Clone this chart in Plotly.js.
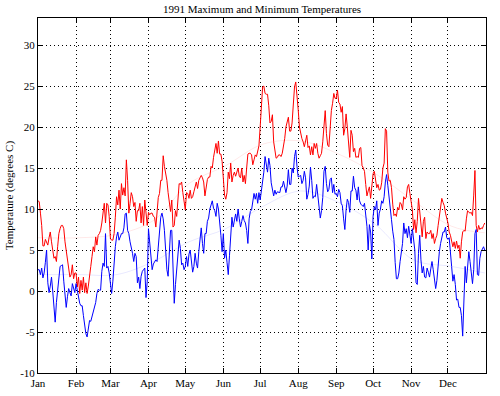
<!DOCTYPE html>
<html>
<head>
<meta charset="utf-8">
<script src="https://cdn.plot.ly/plotly-3.0.1.min.js"></script>
<style>html,body{margin:0;padding:0;background:#fff;}#chart{width:500px;height:396px;}</style>
</head>
<body>
<div id="chart"></div>
<script>
// Daily maximum temperatures (deg C), by month
const maxJan = [11.0,10.9,9.5,8.0,5.5,5.5,6.3,6.0,5.6,6.5,7.2,6.0,5.0,4.0,4.2,3.6,5.4,7.0,7.6,8.0,8.0,7.6,6.0,5.0,3.6,3.0,1.7,2.0,3.2,1.5,2.2];
const maxFeb = [2.2,0.5,1.7,-0.3,1.3,0.1,1.7,-0.2,1.0,-0.3,0.6,2.2,3.0,4.2,5.4,4.8,6.6,5.6,6.8,7.0,7.4,8.3,9.5,10.7,8.3,10.7,10.5,9.1];
const maxMar = [6.4,6.2,6.2,7.0,9.0,11.5,10.5,12.3,10.0,13.1,11.7,12.6,11.6,16.0,13.5,9.5,10.7,12.0,11.5,10.3,10.8,8.5,9.8,9.8,10.7,8.3,10.3,8.0,11.1,9.0,8.0];
const maxApr = [9.6,9.3,9.5,9.5,9.1,9.0,7.8,9.6,11.4,11.9,13.5,13.5,16.5,15.2,14.5,13.5,12.0,10.5,9.7,11.1,7.8,8.0,9.8,9.1,11.0,13.1,13.0,13.3,12.0,10.5];
const maxMay = [9.9,12.0,11.9,11.3,12.3,11.3,11.5,12.1,12.7,13.3,12.5,13.5,13.8,14.1,13.8,13.3,11.6,12.7,13.6,13.9,13.9,15.2,15.0,16.3,17.2,18.0,16.8,18.3,16.7,16.7,15.8];
const maxJun = [14.0,11.7,11.2,12.0,14.5,13.7,15.6,13.3,14.1,14.5,14.0,14.4,15.0,14.0,13.8,15.0,13.3,14.1,13.1,15.0,16.7,16.8,16.8,16.6,15.4,16.0,16.6,16.4,17.0,17.7];
const maxJul = [20.0,23.0,24.9,25.0,24.1,24.0,24.0,22.6,20.5,20.7,21.5,18.2,16.8,16.2,16.3,16.6,16.6,16.4,16.8,17.6,18.6,20.0,20.5,21.2,19.5,19.5,20.5,23.0,24.9,25.5,24.0];
const maxAug = [22.1,20.0,19.2,18.6,18.2,17.6,18.3,19.0,17.5,17.7,16.6,17.6,16.6,18.0,17.4,18.0,16.8,16.2,16.5,16.8,18.2,20.0,22.0,19.2,17.8,17.6,20.2,22.0,22.9,24.1,23.5];
const maxSep = [23.5,24.5,23.0,22.8,21.8,22.5,19.0,19.8,21.6,20.0,18.2,16.3,19.6,19.0,17.0,17.4,16.3,16.4,16.3,17.4,17.5,15.3,15.0,14.6,13.0,11.6,12.2,12.7,11.3,13.2];
const maxOct = [14.3,14.6,13.5,12.6,13.0,12.3,12.4,13.2,15.0,15.6,19.8,19.5,14.5,13.4,13.5,12.6,10.6,9.2,9.4,9.1,10.2,9.9,10.8,10.6,9.9,11.5,11.2,11.4,12.7,13.0,11.9];
const maxNov = [11.1,9.9,7.5,8.7,7.1,8.5,11.3,9.7,7.3,6.6,8.5,9.0,6.4,7.2,7.0,7.0,7.4,6.4,7.0,5.8,6.4,6.8,8.0,9.0,10.3,11.3,10.8,10.4,9.5,9.0];
const maxDec = [8.3,7.2,6.8,6.1,5.4,6.0,5.2,6.1,5.2,5.6,4.0,6.0,7.2,7.4,7.3,8.8,9.8,9.6,9.5,9.6,9.2,11.7,14.7,8.0,7.2,8.0,7.5,7.7,7.6,8.0,8.3];

// Daily minimum temperatures (deg C), by month
const minJan = [2.6,2.6,2.0,2.8,1.6,2.2,3.5,5.0,1.0,-0.2,0.6,1.7,0.0,-2.5,-3.8,-1.4,0.2,1.6,3.0,3.1,3.2,1.2,-0.5,-2.0,-0.7,0.3,-0.2,-0.6,0.9,0.4,-0.2];
const minFeb = [0.9,0.1,-0.9,-1.5,-1.8,-1.8,-3.0,-4.5,-5.2,-5.6,-4.6,-3.6,-3.7,-3.2,-2.6,-2.0,-1.4,-0.3,0.2,0.1,0.1,2.4,3.4,3.0,7.0,2.8,3.0,2.2];
const minMar = [0.8,-0.3,1.2,3.8,5.4,6.6,7.2,6.2,6.6,7.0,7.0,7.7,9.4,9.5,7.4,7.0,6.0,5.4,4.6,3.6,4.6,4.2,1.0,1.7,0.3,1.8,2.4,2.6,2.8,-0.8,1.2];
const minApr = [7.6,6.0,4.4,2.6,3.3,3.6,3.8,3.6,5.6,7.8,9.0,9.5,8.8,7.4,4.5,2.6,1.8,4.5,7.4,7.4,4.0,-1.5,0.8,3.0,4.0,6.2,5.2,3.2,3.4,2.6];
const minMay = [3.0,4.2,3.0,4.5,5.0,3.2,2.3,3.0,4.6,3.4,2.8,4.8,6.5,7.7,5.8,4.6,7.0,7.0,8.5,8.9,10.0,10.7,11.0,10.1,9.8,9.1,10.7,10.0,8.6,6.8,4.8];
const minJun = [7.0,4.0,5.0,3.5,2.0,4.3,6.2,9.0,7.8,8.9,9.4,8.5,10.0,8.8,7.8,8.5,9.2,8.6,8.3,7.4,5.8,8.8,9.7,9.9,11.0,11.9,11.2,11.9,10.7,12.0];
const minJul = [11.1,12.1,13.4,14.5,16.4,15.6,14.5,16.2,15.3,13.2,12.3,11.6,12.3,11.8,12.1,12.0,12.0,12.7,12.7,13.4,12.6,12.0,12.8,14.8,13.0,13.0,15.0,14.4,16.4,17.2,15.2];
const minAug = [13.9,14.0,14.1,13.1,13.5,14.6,13.8,11.2,11.8,12.8,15.1,13.5,11.3,11.6,11.5,13.0,11.5,10.3,8.9,9.8,11.4,14.6,15.2,13.1,12.1,12.4,13.6,13.8,12.0,13.0,11.8];
const minSep = [11.9,11.5,12.4,12.0,10.7,10.4,8.8,7.5,9.9,11.2,10.8,9.6,12.2,12.2,14.0,12.6,12.3,11.1,12.7,11.0,10.6,10.5,10.3,10.7,9.2,7.9,5.0,8.1,7.2,3.9];
const minOct = [9.1,10.3,9.9,11.0,8.0,9.5,10.0,11.0,10.7,11.5,13.3,14.2,12.9,11.7,10.1,8.7,7.3,6.3,3.5,1.5,1.5,2.2,3.6,4.9,5.8,8.3,7.0,7.6,6.5,7.9,6.6];
const minNov = [5.8,7.6,6.5,5.0,1.0,0.8,4.6,6.8,3.8,2.2,3.0,1.7,1.6,2.8,2.3,1.7,2.7,3.6,2.6,1.3,0.3,1.3,3.2,4.8,5.8,6.6,7.2,7.2,7.8,6.5];
const minDec = [6.3,6.5,4.0,3.0,1.2,2.0,0.8,-1.1,-1.0,-2.0,-2.0,-3.0,-5.5,0.5,3.0,1.0,2.5,4.8,3.6,2.4,0.9,2.6,7.0,7.5,2.0,1.9,4.0,4.8,5.2,5.4,5.0];

// Faint smooth seasonal curves
const normDays = [1, 35, 65, 95, 124, 154, 184, 215, 246, 276, 307, 338, 365];
const normMax  = [6.5, 6.5, 6.9, 8.6, 13.1, 15.3, 17.9, 18.3, 16.7, 14.3, 11.0, 7.9, 7.1];
const normMin  = [2.0, 2.0, 2.0, 3.6, 6.0, 7.6, 10.3, 12.2, 10.8, 8.1, 3.8, 3.0, 2.2];

// Axis ticks
const monthStartDays = [1, 32, 60, 91, 121, 152, 182, 213, 244, 274, 305, 335];
const monthLabels = ['Jan','Feb','Mar','Apr','May','Jun','Jul','Aug','Sep','Oct','Nov','Dec'];
const yTickVals = [-10, -5, 0, 5, 10, 15, 20, 25, 30];
const yTickText = ['-10', '-5', '0', '5', '10', '15', '20', '25', '30'];

const maxTemps = [].concat(maxJan, maxFeb, maxMar, maxApr, maxMay, maxJun, maxJul, maxAug, maxSep, maxOct, maxNov, maxDec);
const minTemps = [].concat(minJan, minFeb, minMar, minApr, minMay, minJun, minJul, minAug, minSep, minOct, minNov, minDec);
const days = maxTemps.map((_, i) => i + 1);

const FONT = 'Liberation Serif, Times New Roman, Times, serif';

const traces = [
  {x: normDays, y: normMax, mode: 'lines', line: {color: 'rgba(255,0,0,0.09)', width: 1, shape: 'spline'}, hoverinfo: 'skip'},
  {x: normDays, y: normMin, mode: 'lines', line: {color: 'rgba(0,0,255,0.09)', width: 1, shape: 'spline'}, hoverinfo: 'skip'},
  {x: days, y: maxTemps, mode: 'lines', name: 'Maximum', line: {color: '#ff0000', width: 1}},
  {x: days, y: minTemps, mode: 'lines', name: 'Minimum', line: {color: '#0000ff', width: 1}}
];

const axisCommon = {
  ticks: 'inside', ticklen: 5, tickwidth: 1, tickcolor: '#000',
  showline: true, linecolor: '#000', linewidth: 1, mirror: 'allticks',
  showgrid: true, gridcolor: '#000', gridwidth: 1, griddash: '1px,3px',
  zeroline: false, fixedrange: true,
  tickfont: {family: FONT, size: 11, color: '#000'}
};

const layout = {
  width: 500, height: 396,
  margin: {l: 38, r: 14, t: 18, b: 23},
  paper_bgcolor: '#fff', plot_bgcolor: '#fff',
  showlegend: false, hovermode: false,
  title: {text: '1991 Maximum and Minimum Temperatures', x: 0.5, xref: 'paper', xanchor: 'center',
          y: 0.978, yref: 'container', yanchor: 'middle', font: {family: FONT, size: 11, color: '#000'}},
  xaxis: Object.assign({}, axisCommon, {range: [1, 366], tickmode: 'array', tickvals: monthStartDays, ticktext: monthLabels}),
  yaxis: Object.assign({}, axisCommon, {range: [-10, 33.3], tickmode: 'array', tickvals: yTickVals, ticktext: yTickText,
          title: {text: 'Temperature (degrees C)', font: {family: FONT, size: 11, color: '#000'}, standoff: 4}})
};

Plotly.newPlot('chart', traces, layout, {displayModeBar: false, staticPlot: true});
</script>
</body>
</html>
